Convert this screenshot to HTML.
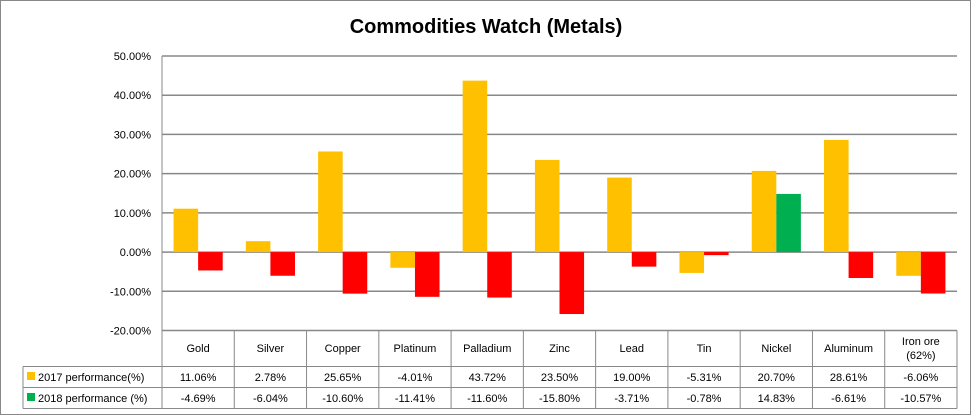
<!DOCTYPE html>
<html><head><meta charset="utf-8"><style>
body{margin:0;background:#fff;}
svg{display:block;font-family:"Liberation Sans",sans-serif;}
</style></head><body>
<svg id="c" width="972" height="416">
<rect x="0.5" y="0.5" width="970" height="414" fill="#fff" stroke="#888"/>
<text x="486" y="33" text-anchor="middle" font-size="20" font-weight="bold" fill="#000">Commodities Watch (Metals)</text>
<g id="g"></g>
</svg>
<script>
const categories=["Gold","Silver","Copper","Platinum","Palladium","Zinc","Lead","Tin","Nickel","Aluminum","Iron ore|(62%)"];
const s2017=[11.06,2.78,25.65,-4.01,43.72,23.50,19.00,-5.31,20.70,28.61,-6.06];
const s2018=[-4.69,-6.04,-10.60,-11.41,-11.60,-15.80,-3.71,-0.78,14.83,-6.61,-10.57];
const ticks=[50,40,30,20,10,0,-10,-20];
const seriesNames=["2017 performance(%)","2018 performance (%)"];
const NS="http://www.w3.org/2000/svg",g=document.getElementById('g');
const L=162,R=957,T=56,B=330.5,ymax=50,ymin=-20;
const y=v=>T+(ymax-v)/(ymax-ymin)*(B-T);
const cw=(R-L)/categories.length;
const x=i=>L+i*cw;
function mk(t,a,txt){const e=document.createElementNS(NS,t);for(const k in a)e.setAttribute(k,a[k]);if(txt!=null)e.textContent=txt;g.appendChild(e);return e;}
ticks.forEach(t=>{
 const gl=mk('line',{x1:L,x2:R,y1:y(t),y2:y(t),stroke:'#888','stroke-width':1.5});
 
 const tl=mk('text',{x:151,y:y(t)+4,'text-anchor':'end','font-size':11},t.toFixed(2)+'%');
 
});
const bw=cw*0.34;
categories.forEach((c,i)=>{
 const cx=x(i)+cw/2;
 [[s2017[i],'#FFC000',cx-bw],[s2018[i],s2018[i]<0?'#FF0000':'#00B050',cx]].forEach((d,k)=>{
  const v=d[0];const r=mk('rect',{x:d[2],width:bw,y:Math.min(y(v),y(0)),height:Math.abs(y(v)-y(0)),fill:d[1]});
  
 });
 const parts=c.split('|');
 parts.forEach((p,j)=>{const t=mk('text',{x:cx,y:(parts.length>1?345:352)+j*14,'text-anchor':'middle','font-size':11},p);
  });
 [s2017[i],s2018[i]].forEach((v,k)=>{const t=mk('text',{x:cx,y:k?402:381,'text-anchor':'middle','font-size':11},v.toFixed(2)+'%');
  });
});
const ln=(a,b,c,d)=>{const e=mk('line',{x1:a,y1:b,x2:c,y2:d,stroke:'#888','stroke-width':1});};
ln(L,330.5,R,330.5);ln(23,366.5,R,366.5);ln(23,387.5,R,387.5);ln(23,408.5,R,408.5);
ln(L,56,L,408.5);ln(23,366.5,23,408.5);
for(let i=1;i<=categories.length;i++)ln(x(i),330.5,x(i),408.5);
[['#FFC000',381],['#00B050',402]].forEach((d,k)=>{
 const r=mk('rect',{x:27,y:d[1]-9,width:8,height:8,fill:d[0]});
 const t=mk('text',{x:38,y:d[1],'font-size':11},seriesNames[k]);
});
</script>
</body></html>
